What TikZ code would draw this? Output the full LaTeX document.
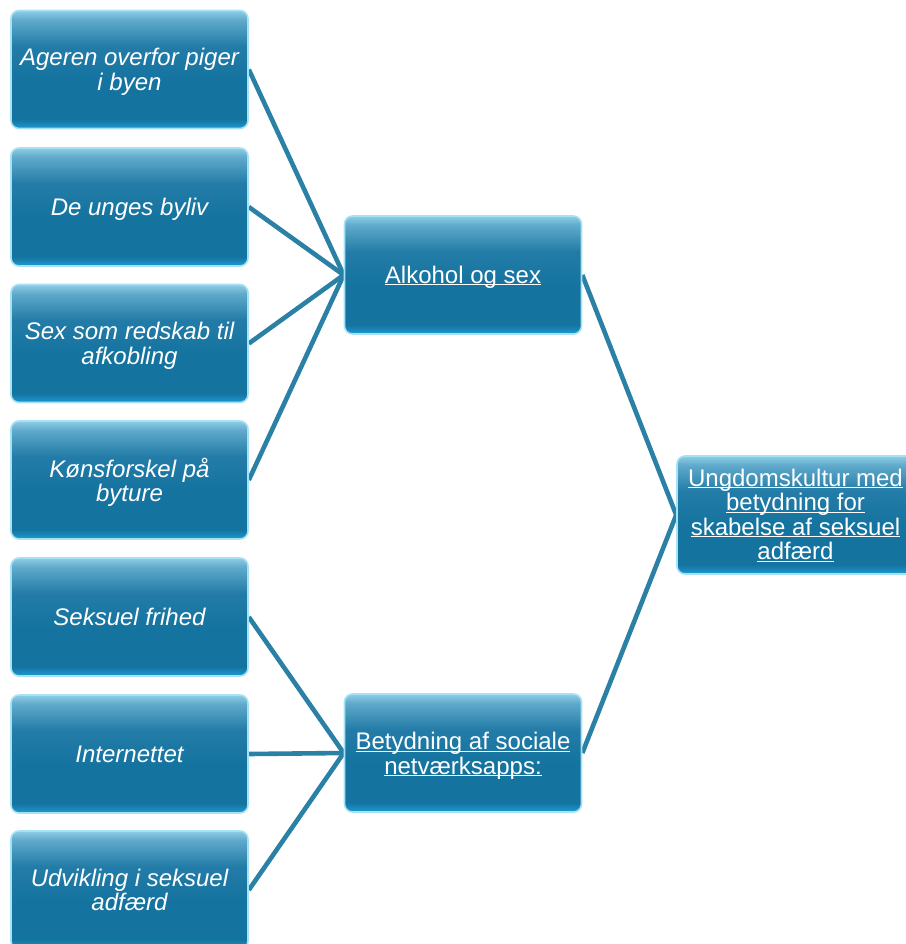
\documentclass[tikz,border=0pt]{standalone}
\usepackage{fontspec}
\setmainfont{Liberation Sans}
\usetikzlibrary{backgrounds}
\definecolor{linec}{HTML}{2A80A5}
\definecolor{edgec}{HTML}{A6E2F5}
\definecolor{gbot}{HTML}{1E9AD2}
\definecolor{glow}{HTML}{14739F}
\definecolor{gmid}{HTML}{237CA7}
\definecolor{gtop}{HTML}{5FA9CB}
\definecolor{gtopx}{HTML}{8FCDE6}
\pgfdeclareverticalshading{glossy}{100bp}{color(0bp)=(gbot);color(25bp)=(gbot);color(29bp)=(glow);color(45bp)=(glow);color(60bp)=(gmid);color(71bp)=(gtop);color(75bp)=(gtopx);color(100bp)=(gtopx)}
\newcommand\ulx[1]{\underline{\smash{#1}}}
\tikzset{
  boxstyle/.style={draw=edgec, line width=1.6pt, rounded corners=8pt, shading=glossy,
    minimum width=237pt, minimum height=118pt, inner sep=1pt, align=center,
    text=white, font=\fontsize{24}{24.5}\selectfont},
  leafbox/.style={boxstyle, font=\fontsize{24}{24.5}\selectfont\itshape, text depth=0pt},
  lbl/.style={text=white, align=center, inner sep=0pt, font=\fontsize{24}{24.5}\selectfont},
  conn/.style={draw=linec, line width=4.6pt}
}
\begin{document}
\begin{tikzpicture}[x=1pt,y=-1pt]
\useasboundingbox (0,0) rectangle (905,944);
\node[leafbox] (l1) at (129.5,69.5) {Ageren overfor piger\\i byen};
\node[leafbox] (l2) at (129.5,207) {De unges byliv};
\node[leafbox] (l3) at (129.5,343.5) {Sex som redskab til\\afkobling};
\node[leafbox] (l4) at (129.5,480) {Kønsforskel på\\byture};
\node[leafbox] (l5) at (129.5,617) {Seksuel frihed};
\node[leafbox] (l6) at (129.5,754) {Internettet};
\node[leafbox] (l7) at (129.5,890) {Udvikling i seksuel\\adfærd};
\node[boxstyle, label={[lbl, yshift=-9pt]center:\ulx{Alkohol og sex}}] (m1) at (463,275) {};
\node[boxstyle, label={[lbl, yshift=-10pt]center:{\ulx{Betydning af sociale}\\\ulx{netværksapps:}}}] (m2) at (463,753) {};
\node[boxstyle, label={[lbl, yshift=-9pt]center:{\ulx{Ungdomskultur med}\\\ulx{betydning for}\\\ulx{skabelse af seksuel}\\\ulx{adfærd}}}] (r) at (795.5,515) {};
\begin{scope}[on background layer]
\fill[white] (0,0) rectangle (905,944);
\foreach \i in {1,2,3,4} \draw[conn] (l\i.east) -- (m1.west);
\foreach \i in {5,6,7} \draw[conn] (l\i.east) -- (m2.west);
\draw[conn] (m1.east) -- (r.west);
\draw[conn] (m2.east) -- (r.west);
\end{scope}
\end{tikzpicture}
\end{document}
